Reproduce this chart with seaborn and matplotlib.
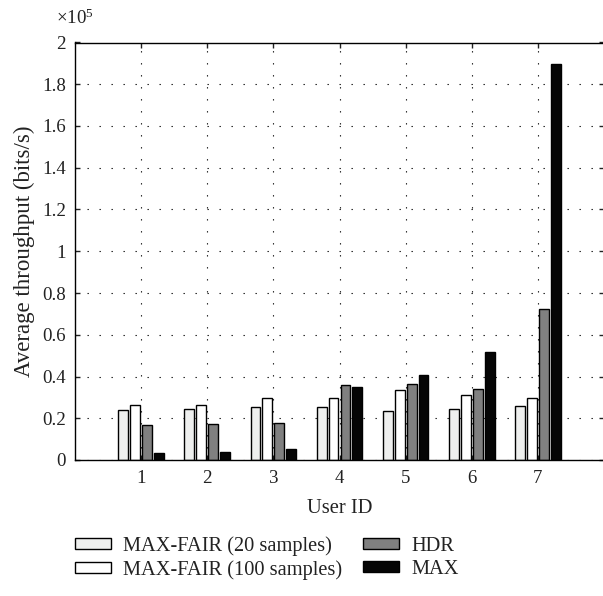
import numpy as np
import pandas as pd
import matplotlib
matplotlib.use("Agg")
import matplotlib.pyplot as plt
from matplotlib.patches import Patch
from matplotlib.ticker import FuncFormatter, MultipleLocator
import seaborn as sns

# ---- data (bits/s) ----
users = [1, 2, 3, 4, 5, 6, 7]
schemes = ["MAX-FAIR (20 samples)", "MAX-FAIR (100 samples)", "HDR", "MAX"]
maxfair20 = [23800, 24500, 25600, 25600, 23700, 24500, 25900]
maxfair100 = [26200, 26500, 29900, 29900, 33600, 31200, 29600]
hdr = [16800, 17400, 17600, 35800, 36300, 34200, 72100]
maxs = [3500, 3700, 5400, 34900, 40900, 51500, 189500]
colors = ["#eeefee", "#ffffff", "#808080", "#050505"]

sns.set_theme(style="white")
plt.rcParams["font.family"] = ["Liberation Serif", "DejaVu Serif"]
plt.rcParams["mathtext.fontset"] = "custom"
plt.rcParams["mathtext.rm"] = "Liberation Serif"
plt.rcParams["mathtext.it"] = "Liberation Serif:italic"

rows = []
for name, vals in zip(schemes, [maxfair20, maxfair100, hdr, maxs]):
    for u, v in zip(users, vals):
        rows.append({"User ID": str(u), "scheme": name, "value": v})
df = pd.DataFrame(rows)

fig = plt.figure(figsize=(6.03, 5.96), dpi=100)
ax = fig.add_axes([75 / 603, 1 - 460 / 596, 529 / 603, (460 - 42.5) / 596])

sns.barplot(data=df, x="User ID", y="value", hue="scheme",
            hue_order=schemes, palette=colors, width=0.72, gap=0.17,
            edgecolor="black", linewidth=1.0, saturation=1, legend=False,
            errorbar=None, ax=ax)

ax.set_xlim(-1, 7)
ax.set_ylim(0, 200000)
ax.yaxis.set_major_locator(MultipleLocator(20000))
ax.yaxis.set_major_formatter(FuncFormatter(lambda v, p: f"{v/1e5:g}"))
ax.set_xticks(range(7))
ax.set_xticklabels([str(u) for u in users])

ax.set_axisbelow(True)
ax.grid(True, color="#111111", linewidth=0.8, linestyle=(0, (1.2, 9.6)))

for s in ["left", "top", "bottom", "right"]:
    ax.spines[s].set_visible(True)
    ax.spines[s].set_color("black")
    ax.spines[s].set_linewidth(1.0)

ax.tick_params(axis="both", which="both", direction="in", length=3.6, width=1.0,
               top=True, right=True, bottom=True, left=True,
               labelsize=13.6, colors="#222222", pad=6.5)
ax.tick_params(axis="x", pad=7.5)

ax.set_xlabel("User ID", fontsize=14.8, labelpad=8, color="#222222")
ax.set_ylabel("Average throughput (bits/s)", fontsize=16.5, labelpad=5, color="#222222")

fig.text(56 / 603, 1 - 18 / 596, r"$\times\mathregular{10^5}$", fontsize=13.6,
         ha="left", va="center", color="#222222")

handles = [Patch(facecolor=c, edgecolor="black", linewidth=1.0, label=l)
           for c, l in zip(colors, schemes)]
leg = fig.legend(handles=handles, ncol=2, loc="upper left",
                 bbox_to_anchor=(75 / 603, 1 - 536 / 596), frameon=False,
                 fontsize=14.7, handlelength=1.76, handleheight=0.49,
                 handletextpad=0.59, columnspacing=1.03, labelspacing=0.2,
                 borderpad=0, borderaxespad=0)
for t in leg.get_texts():
    t.set_color("#222222")

fig.savefig("out.png", dpi=100)
